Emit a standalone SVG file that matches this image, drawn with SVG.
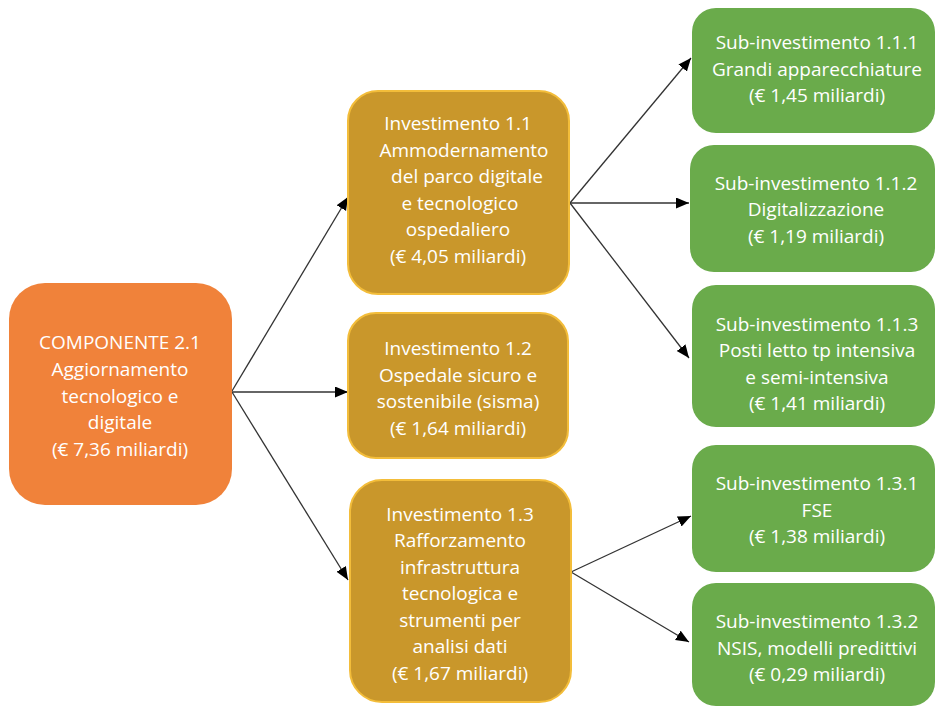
<svg xmlns="http://www.w3.org/2000/svg" width="936" height="707" viewBox="0 0 936 707">
<style>
text{font-family:"Open Sans","Noto Sans","Liberation Sans",sans-serif;font-size:19px;fill:#ffffff;text-anchor:middle}
.orange{fill:#F0823A}
.gold{fill:#C9972B;stroke:#F3BD3A;stroke-width:2}
.green{fill:#6AAB4B}
.conn line{stroke:#333333;stroke-width:1.3;fill:none}
</style>
<defs>
<marker id="arr" markerUnits="userSpaceOnUse" markerWidth="14" markerHeight="12" refX="13" refY="5.5" orient="auto">
<path d="M0,0 L13,5.5 L0,11 z" fill="#000000"/>
</marker>
</defs>
<rect width="936" height="707" fill="#ffffff"/>
<g id="connectors" class="conn">
<line x1="232" y1="391" x2="348" y2="197" marker-end="url(#arr)"/>
<line x1="232" y1="392" x2="348" y2="392" marker-end="url(#arr)"/>
<line x1="232" y1="392" x2="348" y2="580" marker-end="url(#arr)"/>
<line x1="570" y1="203" x2="691" y2="58" marker-end="url(#arr)"/>
<line x1="570" y1="203" x2="689" y2="203" marker-end="url(#arr)"/>
<line x1="570" y1="203" x2="689" y2="358" marker-end="url(#arr)"/>
<line x1="571" y1="572" x2="691" y2="516" marker-end="url(#arr)"/>
<line x1="571" y1="572" x2="689" y2="642" marker-end="url(#arr)"/>
</g>
<g id="componente21">
<rect class="orange" x="9" y="283" width="223" height="222" rx="36"/>
<text x="120" y="349">COMPONENTE 2.1</text>
<text x="120" y="376">Aggiornamento</text>
<text x="120" y="403">tecnologico e</text>
<text x="120" y="429">digitale</text>
<text x="120" y="456">(€ 7,36 miliardi)</text>
</g>
<g id="inv11">
<rect class="gold" x="348" y="91" width="221" height="203" rx="30"/>
<text x="458" y="130">Investimento 1.1</text>
<text x="464" y="157">Ammodernamento</text>
<text x="467" y="183">del parco digitale</text>
<text x="460" y="210">e tecnologico</text>
<text x="458" y="236">ospedaliero</text>
<text x="458" y="263">(€ 4,05 miliardi)</text>
</g>
<g id="inv12">
<rect class="gold" x="348" y="313" width="220" height="145" rx="28"/>
<text x="458" y="355">Investimento 1.2</text>
<text x="458" y="382">Ospedale sicuro e</text>
<text x="458" y="408">sostenibile (sisma)</text>
<text x="458" y="435">(€ 1,64 miliardi)</text>
</g>
<g id="inv13">
<rect class="gold" x="350" y="480" width="221" height="222" rx="32"/>
<text x="460" y="521">Investimento 1.3</text>
<text x="460" y="547">Rafforzamento</text>
<text x="460" y="574">infrastruttura</text>
<text x="460" y="600">tecnologica e</text>
<text x="460" y="627">strumenti per</text>
<text x="460" y="653">analisi dati</text>
<text x="460" y="680">(€ 1,67 miliardi)</text>
</g>
<g id="sub111">
<rect class="green" x="692" y="8" width="243" height="125" rx="24"/>
<text x="817" y="49">Sub-investimento 1.1.1</text>
<text x="817" y="76">Grandi apparecchiature</text>
<text x="817" y="102">(€ 1,45 miliardi)</text>
</g>
<g id="sub112">
<rect class="green" x="690" y="145" width="245" height="127" rx="24"/>
<text x="816" y="190">Sub-investimento 1.1.2</text>
<text x="816" y="216">Digitalizzazione</text>
<text x="816" y="243">(€ 1,19 miliardi)</text>
</g>
<g id="sub113">
<rect class="green" x="692" y="285" width="243" height="142" rx="24"/>
<text x="817" y="331">Sub-investimento 1.1.3</text>
<text x="817" y="357">Posti letto tp intensiva</text>
<text x="817" y="384">e semi-intensiva</text>
<text x="817" y="410">(€ 1,41 miliardi)</text>
</g>
<g id="sub131">
<rect class="green" x="692" y="445" width="243" height="127" rx="24"/>
<text x="817" y="490">Sub-investimento 1.3.1</text>
<text x="817" y="517">FSE</text>
<text x="817" y="543">(€ 1,38 miliardi)</text>
</g>
<g id="sub132">
<rect class="green" x="692" y="583" width="243" height="123" rx="24"/>
<text x="817" y="628">Sub-investimento 1.3.2</text>
<text x="817" y="655">NSIS, modelli predittivi</text>
<text x="817" y="681">(€ 0,29 miliardi)</text>
</g>
</svg>
